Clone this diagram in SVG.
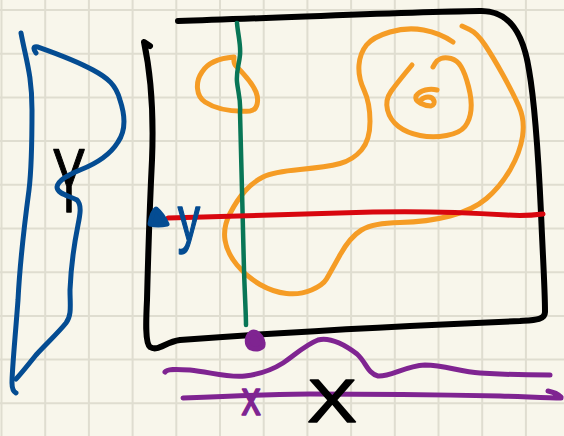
<svg xmlns="http://www.w3.org/2000/svg" width="564" height="436" viewBox="0 0 564 436">
<style>
.ink{fill:none;stroke-linecap:round;stroke-linejoin:round}
.blk{stroke:#000;stroke-width:6}
.grn{stroke:#087656;stroke-width:4.5}
.red{stroke:#d8070f;stroke-width:5}
.org{stroke:#f59c25;stroke-width:5}
.blu{stroke:#044c92;stroke-width:5}
.pur{stroke:#7f2491;stroke-width:5}
.lbl{font-family:"Liberation Sans",Arial,sans-serif;text-anchor:middle;stroke-width:1.5;stroke-linejoin:round}
</style>
<rect width="564" height="436" fill="#f8f6eb"/>
<g id="grid" stroke="#dfddd0" stroke-width="2" fill="none">
<path d="M1.5,0V436M45.2,0V436M88.9,0V436M132.6,0V436M176.3,0V436M220,0V436M263.7,0V436M307.4,0V436M351.1,0V436M394.8,0V436M438.5,0V436M482.2,0V436M525.9,0V436M0,10H564M0,53.7H564M0,97.4H564M0,141.1H564M0,184.8H564M0,228.5H564M0,272.2H564M0,315.9H564M0,359.6H564M0,403.3H564"/>
</g>
<g id="frame">
<path class="ink blk" d="M178,21 C280,18 400,12 480,11 C512,10 524,38 529,70 C536,110 539,170 541,213 C543,260 545,290 545,312 C545,320 535,320 520,321 C420,325 300,331 180,340 C165,342 158,352 150,347 C145,343 146,320 147,300 C148,260 150,200 152,160 C154,110 150,70 144,42 L150,46"/>
</g>
<g id="contours">
<path class="ink org" d="M234,57 C222,58 208,62 202,72 C195,82 196,96 205,102 C214,108 230,112 250,111 C258,110 259,100 256,92 C252,82 243,73 236,66 C233,63 234,60 234,57"/>
<path class="ink org" d="M453,42 Q440,33 423.5,30 Q407,27 390,32 Q373,37 366.5,45 Q360,53 359,65 Q358,77 364,90 Q370,103 370,121.5 Q370,140 361.5,150 Q353,160 340,163.5 Q327,167 300,169.5 Q273,172 263,177 Q253,182 245,191 Q237,200 230,213.5 Q223,227 225,240 Q227,253 237,265 Q247,277 260,284.5 Q273,292 286.5,293.5 Q300,295 311.5,290 Q323,285 326.5,279 Q330,273 340,255 Q350,237 361.5,230 Q373,223 400,222.5 Q427,222 450,216 Q473,210 486.5,198.5 Q500,187 510,170 Q520,153 522.5,136.5 Q525,120 519,106.5 Q513,93 503,75 Q493,57 485,45 Q477,33 469.5,29.5 L462,26"/>
<path class="ink org" d="M412,65 Q397,83 391,91.5 Q385,100 387.5,110 Q390,120 398.5,126.5 Q407,133 420,135.5 Q433,138 446.5,135.5 Q460,133 465,126.5 Q470,120 471,110 Q472,100 468.5,86.5 Q465,73 461,66.5 Q457,60 451,58.5 Q445,57 441,58.5 Q437,60 435,63.5 L433,67"/>
<path class="ink org" d="M437,90 C430,88 420,90 416,96 C414,102 425,106 431,106 C437,104 434,97 428,97 C424,97 422,99 421,100"/>
</g>
<g id="lines">
<path class="ink grn" d="M237,23 C238,35 241,45 240,55 C239,65 236,72 237,82 C238,92 241,100 240,112 C241,150 243,230 244,270 C245,300 246,315 246,325"/>
<path class="ink red" d="M168,218 C200,217 260,215 373,212 C420,211 460,212 507,215 C520,216 535,215 543,214"/>
<path class="ink blu" style="fill:#044c92" d="M150,224 Q152,212 156,209 Q162,214 167,224 Q158,226 150,224 Z"/>
<path class="ink pur" style="fill:#7f2491" d="M251,333 C256,330 262,336 263,343 C264,349 256,350 251,348 C246,345 246,337 251,333 Z"/>
</g>
<g id="label-Y">
<text class="lbl" transform="translate(69,212) scale(0.55,1)" font-size="90" fill="#000" stroke="#000">Y</text>
</g>
<g id="profile">
<path class="ink blu" d="M21,33 C26,60 32,75 32,110 C32,140 32,165 29,190 C25,220 20,260 18,300 C15,340 12,370 12,383 C12,390 14,392 16,393"/>
<path class="ink blu" d="M36,53 C33,49 33,46 38,47 C55,53 75,60 93,70 C108,78 116,85 120,100 C126,118 125,132 118,142 C110,155 98,163 80,170 C68,175 58,180 57,187 C57,194 70,196 77,200 C82,205 80,215 78,225 C74,245 71,265 70,290 C70,305 72,315 66,323 C58,333 45,345 36,355 C28,365 20,375 16,379"/>
</g>
<g id="label-y">
<text class="lbl" transform="translate(189,241) scale(0.7,1)" font-size="64" fill="#044c92" stroke="#044c92">y</text>
</g>
<g id="bottom">
<path class="ink pur" d="M165,372 C167,369 175,369 190,370 C210,372 228,378 245,376 C262,374 272,370 283,363 C295,355 305,345 318,340 C330,337 345,345 357,354 C366,362 368,374 378,376 C390,377 405,366 425,365 C445,365 460,372 480,373 C510,375 535,375 550,375"/>
<path class="ink pur" d="M183,398 C230,396 280,394 310,394 C380,394 450,395 500,396 C530,397 550,398 561,398 M548,391 C553,392 558,394 561,397"/>
</g>
<g id="label-x">
<text class="lbl" transform="translate(251,415) scale(0.8,1)" font-size="48" fill="#7f2491" stroke="#7f2491">x</text>
</g>
<g id="label-X">
<text class="lbl" transform="translate(332,422) scale(1.2,1)" font-size="62" fill="#000" stroke="#000">X</text>
</g>
</svg>
